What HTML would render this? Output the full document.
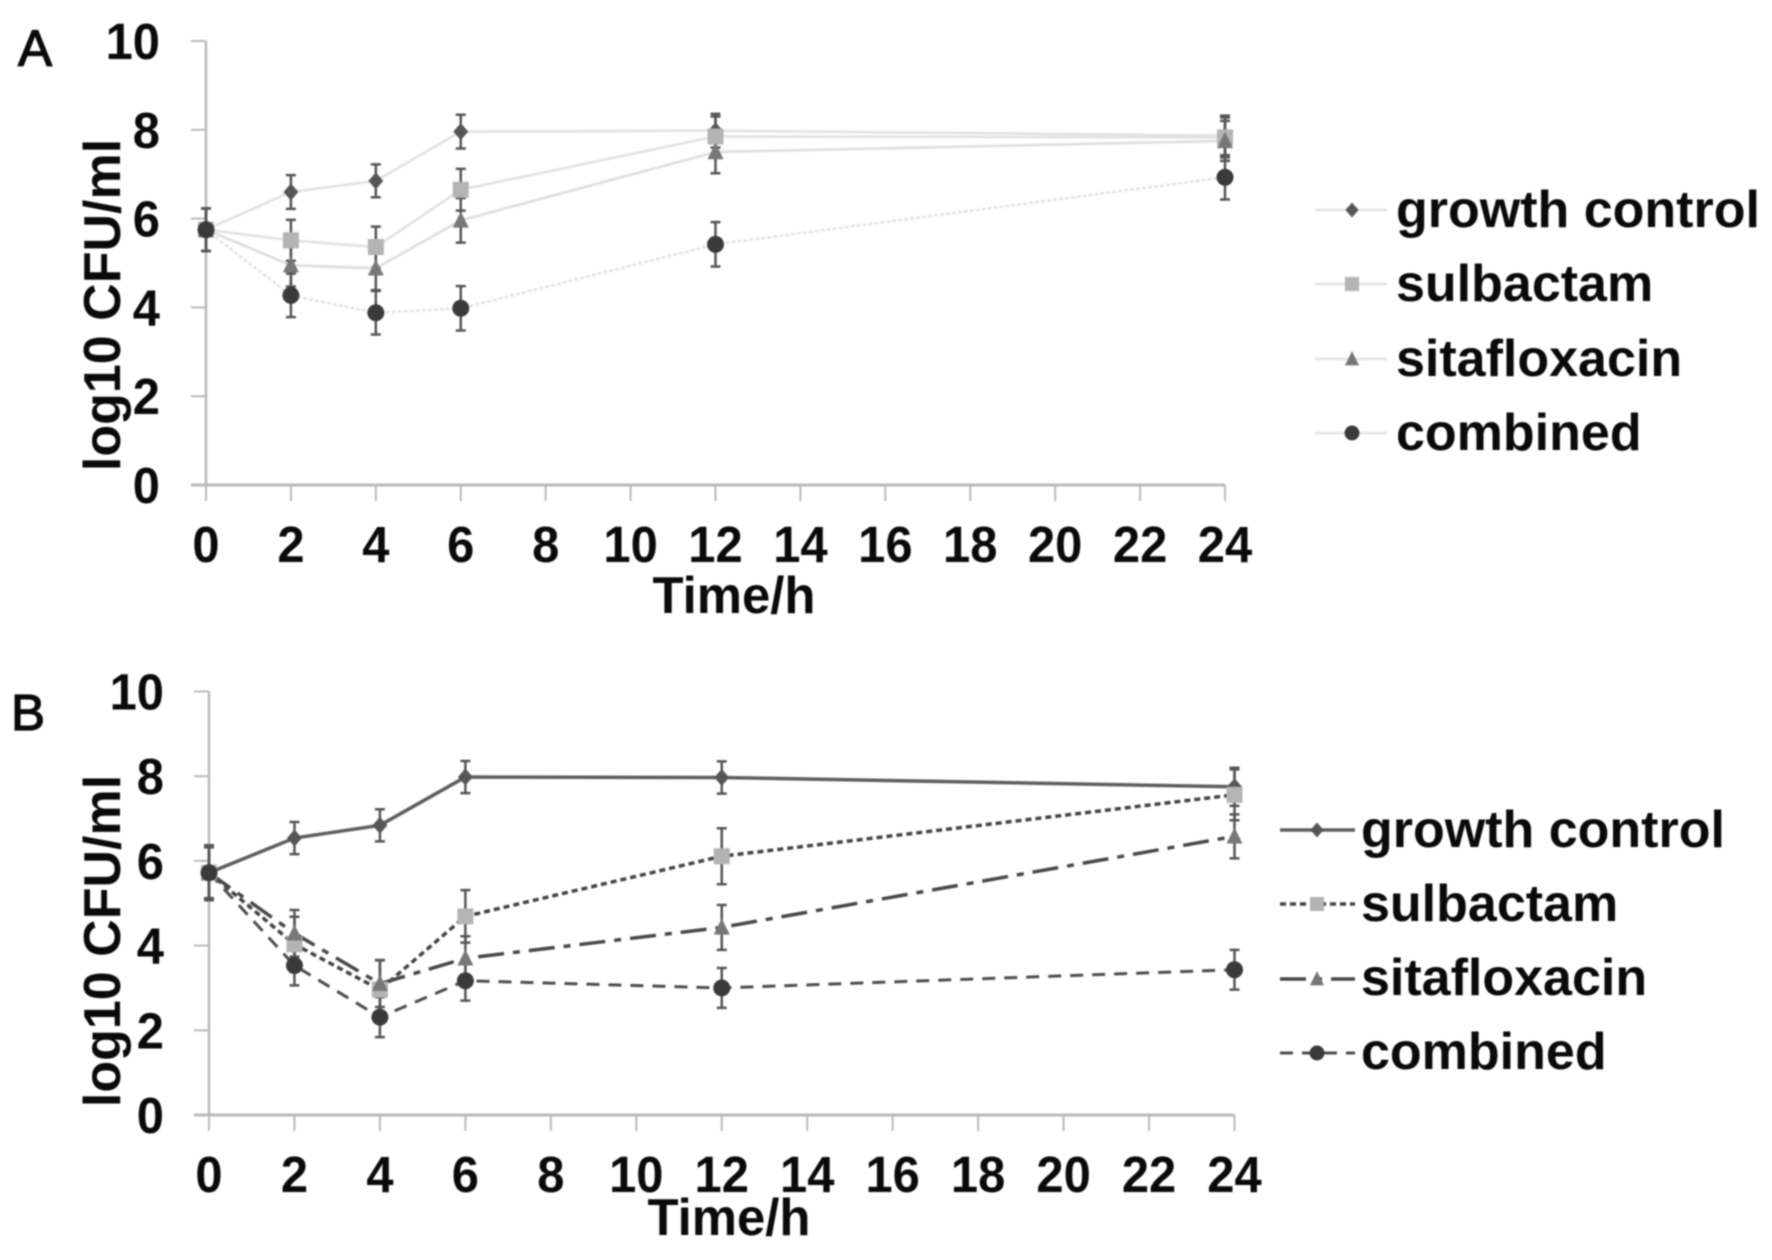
<!DOCTYPE html>
<html lang="en">
<head>
<meta charset="utf-8">
<title>log10 CFU/ml time-kill curves</title>
<style>
  html, body { margin: 0; padding: 0; background: #fff; }
  #figure { display: block; width: 1772px; height: 1260px; background: #fff; filter: blur(0.9px); }
  text { font-family: "Liberation Sans", Arial, sans-serif; fill: #0a0a0a; }
  .tick { font-size: 51px; font-weight: 700; }
  .title { font-size: 52px; font-weight: 700; }
  .legend-text { font-size: 52px; font-weight: 700; }
  .panel-letter { font-size: 51px; font-weight: 400; stroke: #0a0a0a; stroke-width: 1.3px; }
</style>
</head>
<body>
<svg id="figure" xmlns="http://www.w3.org/2000/svg" width="1772" height="1260" viewBox="0 0 1772 1260">
  <rect x="0" y="0" width="1772" height="1260" fill="#fff"/>

  <g id="panel-a">
    <text class="panel-letter" x="18" y="66">A</text>
    <text class="title" text-anchor="middle" transform="translate(120 305) rotate(-90)">log10 CFU/ml</text>
    <text class="title" text-anchor="middle" x="734" y="613" textLength="163" lengthAdjust="spacingAndGlyphs">Time/h</text>
    <g>
      <text class="legend-text" x="1396" y="227">growth control</text>
      <text class="legend-text" x="1396" y="301">sulbactam</text>
      <text class="legend-text" x="1396" y="376">sitafloxacin</text>
      <text class="legend-text" x="1396" y="450">combined</text>
    </g>
  </g>

  <g id="panel-b">
    <text class="panel-letter" x="11" y="730">B</text>
    <text class="title" text-anchor="middle" transform="translate(120 941) rotate(-90)">log10 CFU/ml</text>
    <text class="title" text-anchor="middle" x="729" y="1235" textLength="163" lengthAdjust="spacingAndGlyphs">Time/h</text>
    <g>
      <text class="legend-text" x="1361" y="847">growth control</text>
      <text class="legend-text" x="1361" y="921">sulbactam</text>
      <text class="legend-text" x="1361" y="995">sitafloxacin</text>
      <text class="legend-text" x="1361" y="1069">combined</text>
    </g>
  </g>
</svg>

<script>
// ---- data ----
const hours = [0, 2, 4, 6, 12, 24];
const xTickLabels = [0, 2, 4, 6, 8, 10, 12, 14, 16, 18, 20, 22, 24];
const yTickLabels = [0, 2, 4, 6, 8, 10];
const seriesNames = ['growth-control', 'sulbactam', 'sitafloxacin', 'combined'];

const panelAGrowth = [5.75, 6.60, 6.85, 7.96, 7.98, 7.87];
const panelASulbactam = [5.75, 5.51, 5.36, 6.65, 7.85, 7.83];
const panelASitafloxacin = [5.75, 4.95, 4.88, 5.96, 7.50, 7.75];
const panelACombined = [5.75, 4.27, 3.88, 3.98, 5.42, 6.93];

const panelAGrowthErr = [0.48, 0.38, 0.37, 0.38, 0.38, 0.45];
const panelASulbactamErr = [0.48, 0.46, 0.46, 0.47, 0.45, 0.45];
const panelASitafloxacinErr = [0.48, 0.48, 0.49, 0.50, 0.48, 0.45];
const panelACombinedErr = [0.48, 0.49, 0.49, 0.50, 0.50, 0.50];

const panelBGrowth = [5.72, 6.54, 6.84, 7.98, 7.97, 7.75];
const panelBSulbactam = [5.72, 4.03, 2.96, 4.69, 6.11, 7.56];
const panelBSitafloxacin = [5.72, 4.29, 3.10, 3.70, 4.43, 6.58];
const panelBCombined = [5.72, 3.53, 2.31, 3.17, 3.00, 3.43];

const panelBGrowthErr = [0.65, 0.38, 0.38, 0.38, 0.38, 0.45];
const panelBSulbactamErr = [0.65, 0.65, 0.70, 0.62, 0.66, 0.60];
const panelBSitafloxacinErr = [0.65, 0.55, 0.55, 0.52, 0.53, 0.52];
const panelBCombinedErr = [0.60, 0.47, 0.47, 0.47, 0.47, 0.47];

// ---- layout and style (not data) ----
const SVGNS = 'http://www.w3.org/2000/svg';
const markerFill = ['#565656', '#b4b4b4', '#777777', '#3a3a3a'];
const digitWidth = 27.2;

const panelA = {
  key: 'panel-a', group: 'panel-a', left: 206, right: 1225, bottom: 485, top: 41,
  values: [panelAGrowth, panelASulbactam, panelASitafloxacin, panelACombined],
  errors: [panelAGrowthErr, panelASulbactamErr, panelASitafloxacinErr, panelACombinedErr],
  lineColor: ['#e2e2e2', '#e2e2e2', '#dedede', '#e4e4e4'],
  lineWidth: [2.6, 2.6, 2.6, 2.6],
  dash: ['', '', '', '4 2'],
  legendLine: [1315, 1387], legendMarker: 1352, legendRows: [210, 284, 359, 433], legendColor: '#e2e2e2',
  tickRight: 160, xTickBaseline: 562
};
const panelB = {
  key: 'panel-b', group: 'panel-b', left: 209, right: 1234.5, bottom: 1115, top: 691.5,
  values: [panelBGrowth, panelBSulbactam, panelBSitafloxacin, panelBCombined],
  errors: [panelBGrowthErr, panelBSulbactamErr, panelBSitafloxacinErr, panelBCombinedErr],
  lineColor: ['#5e5e5e', '#444444', '#484848', '#4e4e4e'],
  lineWidth: [3.5, 3.5, 3.5, 3],
  dash: ['', '6 4', '26 9 7 9', '13 9'],
  legendLine: [1280, 1355], legendMarker: 1317, legendRows: [830, 904, 979, 1053], legendColor: null,
  tickRight: 164, xTickBaseline: 1192
};

function xScale(panel, hour) {
  return panel.left + hour * (panel.right - panel.left) / 24;
}
function yScale(panel, value) {
  return panel.bottom - value * (panel.bottom - panel.top) / 10;
}

function svgEl(tag, attrs, parent) {
  const el = document.createElementNS(SVGNS, tag);
  for (const k in attrs) el.setAttribute(k, attrs[k]);
  parent.appendChild(el);
  return el;
}

function drawMarker(kind, cx, cy, parent, scale) {
  const fill = markerFill[kind];
  let el;
  if (kind === 0) {
    const w = 7.5 * scale, h = 8.5 * scale;
    el = svgEl('polygon', { points: [cx, cy - h, cx + w, cy, cx, cy + h, cx - w, cy].join(' '), fill: fill }, parent);
  } else if (kind === 1) {
    const s = 8 * scale;
    el = svgEl('rect', { x: cx - s, y: cy - s, width: 2 * s, height: 2 * s, fill: fill }, parent);
  } else if (kind === 2) {
    const w = 8 * scale, h = 9 * scale;
    el = svgEl('polygon', { points: [cx, cy - h, cx + w, cy + h * 0.8, cx - w, cy + h * 0.8].join(' '), fill: fill }, parent);
  } else {
    el = svgEl('ellipse', { cx: cx, cy: cy, rx: 8.5 * scale, ry: 8.5 * scale, fill: fill }, parent);
  }
  return el;
}

function drawAxes(panel, root) {
  const axisColor = '#b9b9b9';
  const yAxis = svgEl('line', { x1: xScale(panel, 0), x2: xScale(panel, 0), y1: yScale(panel, 10), y2: yScale(panel, 0), stroke: axisColor, 'stroke-width': 2.5 }, root);
  
  
  const xAxis = svgEl('line', { x1: xScale(panel, 0) - 15, x2: xScale(panel, 24), y1: yScale(panel, 0), y2: yScale(panel, 0), stroke: axisColor, 'stroke-width': 3 }, root);
  
  

  xTickLabels.forEach(function (t) {
    const x = xScale(panel, t);
    const mark = svgEl('line', { x1: x, x2: x, y1: yScale(panel, 0), y2: yScale(panel, 0) + 16, stroke: axisColor, 'stroke-width': 2 }, root);
    
    
    const text = String(t);
    const label = svgEl('text', { x: x, y: panel.xTickBaseline, 'text-anchor': 'middle', class: 'tick', textLength: digitWidth * text.length, lengthAdjust: 'spacingAndGlyphs' }, root);
    label.textContent = text;
    
    
  });

  yTickLabels.forEach(function (v) {
    const y = yScale(panel, v);
    const mark = svgEl('line', { x1: xScale(panel, 0) - 15, x2: xScale(panel, 0), y1: y, y2: y, stroke: axisColor, 'stroke-width': 2 }, root);
    
    
    const text = String(v);
    const label = svgEl('text', { x: panel.tickRight, y: y + 18, 'text-anchor': 'end', class: 'tick', textLength: digitWidth * text.length, lengthAdjust: 'spacingAndGlyphs' }, root);
    label.textContent = text;
    
    
  });
}

function drawSeries(panel, root) {
  // error bars first, then lines, then markers
  panel.values.forEach(function (vals, s) {
    vals.forEach(function (v, i) {
      const x = xScale(panel, hours[i]);
      const err = panel.errors[s][i];
      const hi = yScale(panel, v + err);
      const lo = yScale(panel, v - err);
      const bar = svgEl('path', {
        d: 'M' + (x - 5) + ' ' + hi + 'H' + (x + 5) + 'M' + x + ' ' + hi + 'V' + lo + 'M' + (x - 5) + ' ' + lo + 'H' + (x + 5),
        stroke: '#555', 'stroke-width': 2.5, fill: 'none'
      }, root);
      
      
    });
  });

  panel.values.forEach(function (vals, s) {
    const pts = vals.map(function (v, i) {
      return xScale(panel, hours[i]) + ',' + yScale(panel, v);
    }).join(' ');
    const attrs = { points: pts, fill: 'none', stroke: panel.lineColor[s], 'stroke-width': panel.lineWidth[s] };
    if (panel.dash[s]) attrs['stroke-dasharray'] = panel.dash[s];
    const line = svgEl('polyline', attrs, root);
    
    
  });

  panel.values.forEach(function (vals, s) {
    vals.forEach(function (v, i) {
      const m = drawMarker(s, xScale(panel, hours[i]), yScale(panel, v), root, 1);
      
      
    });
  });
}

function drawLegendKeys(panel, root) {
  seriesNames.forEach(function (name, s) {
    const y = panel.legendRows[s];
    const attrs = {
      x1: panel.legendLine[0], x2: panel.legendLine[1], y1: y, y2: y,
      stroke: panel.legendColor || panel.lineColor[s],
      'stroke-width': panel.legendColor ? 2.5 : panel.lineWidth[s]
    };
    if (panel.dash[s] && !panel.legendColor) attrs['stroke-dasharray'] = panel.dash[s];
    const line = svgEl('line', attrs, root);
    
    
    const m = drawMarker(s, panel.legendMarker, y, root, 0.88);
    
    
  });
}

[panelA, panelB].forEach(function (panel) {
  const root = document.getElementById(panel.group);
  drawAxes(panel, root);
  drawSeries(panel, root);
  drawLegendKeys(panel, root);
});
</script>
</body>
</html>
